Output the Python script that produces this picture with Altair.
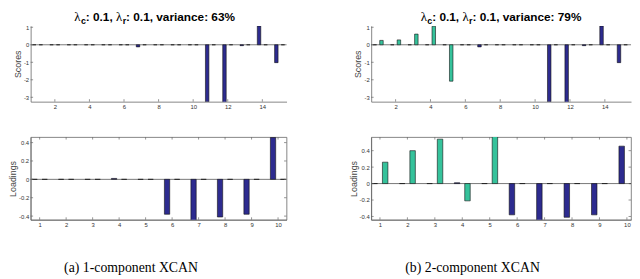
import altair as alt
import pandas as pd

# ---------------- data ----------------
score_idx = list(range(1, 16))
scores_comp1 = [0, 0, 0, 0, 0, 0, -0.12, 0, 0, 0, -3.26, -3.40, -0.05, 1.07, -1.02]
scores_a_comp2 = [0] * 15
scores_b_comp2 = [0.25, 0.28, 0.61, 1.06, -2.08, 0, 0, 0, 0, 0, 0, 0, 0, 0, 0]
score_x_ticks = [2, 4, 6, 8, 10, 12, 14]
score_y_ticks = [-3, -2, -1, 0, 1]

load_idx = list(range(1, 11))
load_comp1 = [0, 0, 0, 0.01, 0, -0.38, -0.46, -0.41, -0.38, 0.455]
load_a_comp2 = [0] * 10
load_b_comp2 = [0.26, 0.40, 0.54, -0.21, 0.58, 0, 0, 0, 0, 0]
load_x_ticks = list(range(1, 11))
load_y_ticks = [-0.4, -0.2, 0, 0.2, 0.4]

lambda_c = "0.1"
lambda_r = "0.1"
variances = ["63%", "79%"]
captions = ["(a) 1-component XCAN", "(b) 2-component XCAN"]
score_title = "Scores"
load_title = "Loadings"

# ---------------- style ----------------
BLUE = "#2d2b8f"
TEAL = "#35c29b"
AXC = "#666666"
LABC = "#333333"
SANS = "Liberation Sans"
SERIF = "Liberation Serif"

# approx advance widths (em) for title layout
W_BOLD = {":": 0.333, " ": 0.278, "0": 0.556, ".": 0.278, "1": 0.556, ",": 0.278,
          "v": 0.556, "a": 0.556, "r": 0.389, "i": 0.278, "n": 0.611, "c": 0.556,
          "e": 0.556, "6": 0.556, "3": 0.556, "7": 0.556, "9": 0.556, "%": 0.889}


def text_w(s, size, bold=True):
    if not bold:
        return 0.52 * size * len(s)
    return sum(W_BOLD.get(ch, 0.556) for ch in s) * size


def title_layers(var, w, shift):
    parts = [
        ("λ", False, 13, 0),
        ("c", True, 9, 3),
        (f": {lambda_c}, ", True, 12, 0),
        ("λ", False, 13, 0),
        ("r", True, 9, 3),
        (f": {lambda_r}, variance: {var}", True, 12, 0),
    ]
    widths = [text_w(t, s, b) for t, b, s, _ in parts]
    total = sum(widths)
    x = w / 2 + shift - total / 2
    layers = []
    for (t, b, s, dy), wd in zip(parts, widths):
        layers.append(
            alt.Chart(pd.DataFrame({"t": [t]})).mark_text(
                align="left", baseline="alphabetic", fontSize=s,
                fontWeight="bold" if b else "normal",
                font=SERIF if not b else SANS, color="black",
            ).encode(x=alt.value(x), y=alt.value(-5 + dy), text="t:N")
        )
        x += wd
    return layers


def panel(idx, c1, c2, xdom, ydom, xticks, yticks, w, h, ytitle, box,
          title_var=None, title_shift=0, caption=None, cap_dx=0):
    n = len(idx)
    df = pd.DataFrame({"idx": idx + idx, "comp": ["1"] * n + ["2"] * n,
                       "value": c1 + c2})
    xs = alt.Scale(domain=xdom, nice=False, zero=False)
    ys = alt.Scale(domain=ydom, nice=False, zero=False)
    xaxis = alt.Axis(values=xticks, title=None, labelExpr="'' + datum.value")
    yaxis = alt.Axis(values=yticks, title=ytitle, labelExpr="'' + datum.value")

    zero = alt.Chart(pd.DataFrame({"z": [0]})).mark_rule(
        color="#555555", strokeWidth=0.8).encode(y=alt.Y("z:Q", scale=ys, axis=yaxis))

    bars = alt.Chart(df).transform_calculate(
        off="datum.comp == '1' ? -0.19 : 0.19"
    ).transform_calculate(
        xl="datum.idx + datum.off - 0.1", xr="datum.idx + datum.off + 0.1"
    ).mark_bar(clip=True, stroke="#111111", strokeWidth=0.6).encode(
        x=alt.X("xl:Q", scale=xs, axis=xaxis),
        x2="xr:Q",
        y=alt.Y("value:Q", scale=ys, axis=yaxis),
        y2=alt.datum(0),
        color=alt.Color("comp:N", scale=alt.Scale(domain=["1", "2"], range=[BLUE, TEAL]),
                        legend=None),
    )

    ytk = alt.Chart(pd.DataFrame({"t": yticks})).mark_rule(color=AXC, strokeWidth=0.7).encode(
        y=alt.Y("t:Q", scale=ys, axis=yaxis), x=alt.value(0), x2=alt.value(2.5))
    xtk = alt.Chart(pd.DataFrame({"t": xticks})).mark_rule(color=AXC, strokeWidth=0.7).encode(
        x=alt.X("t:Q", scale=xs, axis=xaxis), y=alt.value(h), y2=alt.value(h - 2.5))
    layers = [zero, bars, ytk, xtk]
    if box:
        layers.append(alt.Chart(pd.DataFrame({"t": yticks})).mark_rule(color=AXC, strokeWidth=0.7).encode(
            y=alt.Y("t:Q", scale=ys, axis=yaxis), x=alt.value(w - 2.5), x2=alt.value(w)))
        layers.append(alt.Chart(pd.DataFrame({"t": xticks})).mark_rule(color=AXC, strokeWidth=0.7).encode(
            x=alt.X("t:Q", scale=xs, axis=xaxis), y=alt.value(0), y2=alt.value(2.5)))
    if title_var is not None:
        layers += title_layers(title_var, w, title_shift)

    props = dict(width=w, height=h)
    if box:
        props["view"] = alt.ViewBackground(stroke=AXC, strokeWidth=0.8)
    if caption is not None:
        props["title"] = alt.TitleParams(
            caption, orient="bottom", anchor="middle", frame="group", dx=cap_dx,
            offset=34, font=SERIF, fontSize=14, fontWeight="normal", color="black")
    return alt.layer(*layers).properties(**props)


WA, WB = 260, 264
HT, HB = 77, 84

top_a = panel(score_idx, scores_comp1, scores_a_comp2, [0.6, 15.4], [-3.25, 1.08],
              score_x_ticks, score_y_ticks, WA, HT, score_title, False,
              title_var=variances[0], title_shift=-4)
bot_a = panel(load_idx, load_comp1, load_a_comp2, [0.66, 10.32], [-0.44, 0.46],
              load_x_ticks, load_y_ticks, WA, HB, load_title, True,
              caption=captions[0], cap_dx=-28)
top_b = panel(score_idx, scores_comp1, scores_b_comp2, [0.6, 15.5], [-3.25, 1.08],
              score_x_ticks, score_y_ticks, WB, HT, score_title, False,
              title_var=variances[1], title_shift=0)
bot_b = panel(load_idx, load_comp1, load_b_comp2, [0.68, 10.15], [-0.44, 0.565],
              load_x_ticks, load_y_ticks, WB, HB, load_title, True,
              caption=captions[1], cap_dx=-29)

col_a = alt.vconcat(top_a, bot_a, spacing=27)
col_b = alt.vconcat(top_b, bot_b, spacing=27)

chart = alt.hconcat(col_a, col_b, spacing=62).properties(
    padding={"top": 1, "left": 0, "right": 0, "bottom": 0}
).configure_view(
    stroke=None
).configure_axis(
    labelFontSize=6, labelColor=LABC, labelFont=SANS, domainColor=AXC, domainWidth=0.8,
    ticks=False, grid=False, labelPadding=2, titleFontSize=9, titleFont=SANS,
    titleFontWeight="normal", titleColor="#444444", titlePadding=1,
)

chart.save("out.html", embed_options={"renderer": "svg", "actions": False})
